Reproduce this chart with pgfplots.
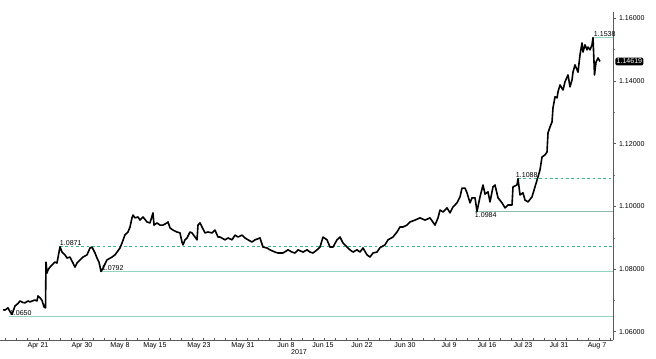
\documentclass[border=0pt]{standalone}
\usepackage{pgfplots}
\pgfplotsset{compat=1.18}
\usepackage{fontspec}
\setmainfont{Liberation Sans}
\definecolor{refsolid}{RGB}{150,212,190}
\definecolor{refdash}{RGB}{60,180,140}
\definecolor{axgray}{RGB}{90,90,90}
\newcommand{\chartfont}{\fontsize{5.3}{6}\selectfont}
\begin{document}
\begin{tikzpicture}
\useasboundingbox (0,-14.25pt) rectangle (492pt,255pt);
\begin{axis}[
  at={(0,0)}, anchor=south west,
  scale only axis, width=459.75pt, height=246pt,
  xmin=0, xmax=613, ymin=1.05735, ymax=1.16198,
  clip=false,
  axis x line*=bottom, axis y line*=right,
  axis line style={axgray, line width=0.6pt},
  xtick={38,82,120,155,199,243,286,323,362,405,449,487,523,559,597},
  xticklabels={Apr 21,Apr 30,May 8,May 15,May 23,May 31,Jun 8,Jun 15,Jun 22,Jun 30,Jul 9,Jul 16,Jul 23,Jul 31,Aug 7},
  major x tick style={draw=none},
  minor xtick={5,16,27,38,49,60,71,82,93,104,115,126,137,148,159,170,181,192,203,214,225,236,247,258,269,280,291,302,313,324,335,346,357,368,379,390,401,412,423,434,445,456,467,478,489,500,511,522,533,544,555,566,577,588,599,610},
  minor x tick style={axgray, line width=0.4pt},
  minor tick length=1.5pt,
  x tick label style={font=\chartfont, text=black, yshift=1.5pt},
  ytick={1.06,1.08,1.10,1.12,1.14,1.16},
  minor ytick={1.07,1.09,1.11,1.13,1.15},
  ytick pos=right,
  ytick align=outside,
  major y tick style={axgray, line width=0.5pt},
  major tick length=2pt,
  y tick label style={font=\chartfont, text=black, xshift=-1pt},
  yticklabel style={/pgf/number format/.cd, fixed, fixed zerofill, precision=5, assume math mode=true},
]
% reference lines
\addplot[refsolid, line width=0.7pt] coordinates {(9,1.0650) (613,1.0650)};
\addplot[refsolid, line width=0.7pt] coordinates {(101,1.0792) (613,1.0792)};
\addplot[refsolid!70!gray, line width=0.7pt] coordinates {(475,1.0984) (613,1.0984)};
\addplot[refsolid, line width=0.7pt] coordinates {(593,1.1538) (613,1.1538)};
\addplot[refdash, line width=0.6pt, dash pattern=on 2pt off 2pt] coordinates {(60,1.0871) (613,1.0871)};
\addplot[refdash, line width=0.6pt, dash pattern=on 2pt off 2pt] coordinates {(518,1.1088) (613,1.1088)};
% price
\addplot[black, line width=1.2pt, line join=round] coordinates {
(3,1.0670) (5,1.0669) (8,1.0676) (10,1.0664) (12,1.0655) (15,1.0682) (18,1.0690) (20,1.0698) (23,1.0693) (25,1.0692) (28,1.0698) (30,1.0695) (33,1.0699) (35,1.0701) (37,1.0698) (38,1.0714) (40,1.0708) (42,1.0700) (44,1.0679) (45.5,1.0676)
(46,1.0822) (47,1.0787) (48,1.0797) (50,1.0806) (52,1.0813) (55,1.0822) (57,1.0819) (60,1.0871) (62,1.0854) (65,1.0845) (67,1.0835) (70,1.0838) (73,1.0819) (75,1.0806) (77,1.0819) (80,1.0829) (83,1.0838) (87,1.0845) (90,1.0867) (92,1.0870) (95,1.0851) (97,1.0835) (99,1.0822) (101,1.0792) (103,1.0803) (107,1.0829) (112,1.0838) (115,1.0845) (120,1.0867) (122,1.0883) (125,1.0909) (128,1.0918) (130,1.0934) (132,1.0963) (133,1.0972) (135,1.0963) (138,1.0966) (140,1.0956) (143,1.0966) (147,1.0950) (150,1.0947) (153,1.0979) (154,1.0940) (157,1.0947) (160,1.0940) (163,1.0940) (167,1.0947) (168,1.0950) (170,1.0931) (173,1.0924) (177,1.0918) (180,1.0915) (182,1.0886) (183,1.0877) (185,1.0893) (187,1.0899) (190,1.0918) (192,1.0915) (195,1.0902) (197,1.0893) (198,1.0940) (200,1.0947) (202,1.0934) (205,1.0915) (208,1.0918) (212,1.0915) (215,1.0924) (218,1.0902)
(220,1.0902) (225,1.0893) (228,1.0899) (232,1.0893) (235,1.0908) (238,1.0902) (242,1.0908) (245,1.0899) (248,1.0893) (252,1.0886) (255,1.0893) (260,1.0899) (263,1.0870) (267,1.0867) (270,1.0861) (275,1.0854) (278,1.0851) (283,1.0851) (288,1.0861) (292,1.0854) (295,1.0851) (298,1.0861) (303,1.0854) (307,1.0861) (310,1.0854) (313,1.0851) (317,1.0861) (320,1.0870) (323,1.0902) (327,1.0893) (330,1.0870) (333,1.0870) (337,1.0893) (340,1.0902) (343,1.0883) (347,1.0870) (350,1.0861) (353,1.0854) (357,1.0861) (360,1.0854) (363,1.0867) (367,1.0845) (370,1.0838) (373,1.0851) (377,1.0854)
(380,1.0868) (385,1.0877) (388,1.0893) (393,1.0902) (397,1.0918) (400,1.0934) (403,1.0934) (407,1.0940) (410,1.0950) (415,1.0956) (420,1.0963) (425,1.0956) (430,1.0963) (435,1.0940) (438,1.0963) (440,1.0988) (443,1.0982) (447,1.0995) (450,1.0979) (453,1.0998) (457,1.1011) (460,1.1030) (462,1.1058) (465,1.1058) (467,1.1043) (470,1.1011) (472,1.1027) (475,1.1027) (477,1.0984) (480,1.1030) (483,1.1068) (485,1.1039) (488,1.1046) (490,1.1014) (493,1.1062) (495,1.1068) (498,1.1027) (502,1.1011) (505,1.0995) (508,1.1004) (512,1.1004)
(513,1.1062) (517,1.1068) (518,1.1088) (520,1.1036) (523,1.1043) (525,1.1020) (528,1.1014) (532,1.1030) (535,1.1062) (538,1.1094) (540,1.1116) (542,1.1157) (545,1.1164) (547,1.1173) (548,1.1234) (550,1.1253) (552,1.1269) (553,1.1314) (555,1.1349) (557,1.1346) (558,1.1365) (560,1.1387) (563,1.1371) (565,1.1397) (568,1.1419) (570,1.1381) (572,1.1403) (573,1.1428) (575,1.1451) (578,1.1428) (580,1.1483) (582,1.1521) (583,1.1492) (585,1.1515) (587,1.1499) (588,1.1508) (590,1.1499) (592,1.1515) (593,1.1538) (594,1.1460) (594.5,1.1419) (596,1.1460) (598,1.1473) (600,1.1462)
};
% level labels
\node[font=\chartfont, anchor=south west, inner sep=0.5pt] at (axis cs:9,1.0650) {1.0650};
\node[font=\chartfont, anchor=south west, inner sep=0.5pt] at (axis cs:59,1.0871) {1.0871};
\node[font=\chartfont, anchor=south west, inner sep=0.5pt] at (axis cs:101,1.0792) {1.0792};
\node[font=\chartfont, anchor=north west, inner sep=0.5pt] at (axis cs:474,1.0984) {1.0984};
\node[font=\chartfont, anchor=south west, inner sep=0.5pt] at (axis cs:515,1.1088) {1.1088};
\node[font=\chartfont, anchor=south west, inner sep=0.5pt] at (axis cs:593,1.1538) {1.1538};
\node[font=\chartfont, anchor=north, inner sep=0pt] at (axis cs:299,1.05735) [yshift=-6.8pt] {2017};
\node[font=\chartfont, fill=black, text=white, rounded corners=1pt, inner sep=1pt, anchor=west] at (axis cs:613,1.14619) [xshift=1.5pt] {1.14619};
\end{axis}
\end{tikzpicture}
\end{document}
